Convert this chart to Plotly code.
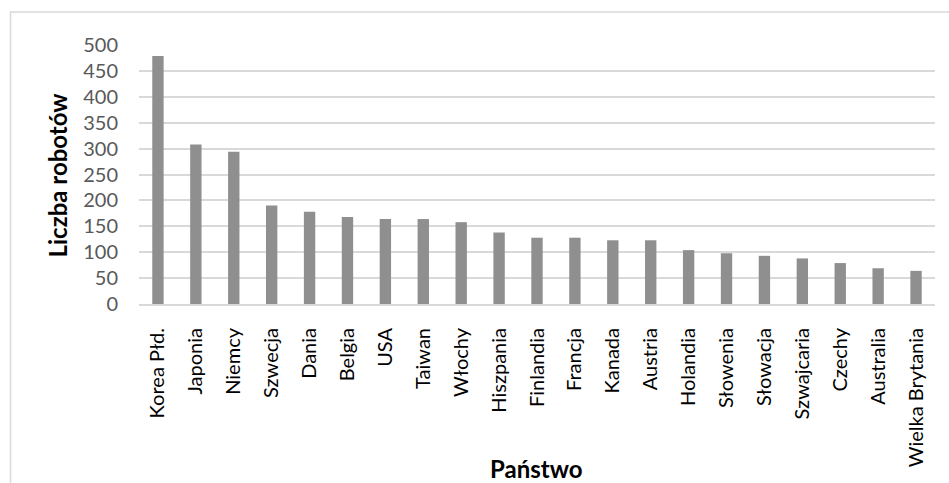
import plotly.graph_objects as go

countries = ["Korea Płd.", "Japonia", "Niemcy", "Szwecja", "Dania", "Belgia", "USA",
             "Taiwan", "Włochy", "Hiszpania", "Finlandia", "Francja", "Kanada", "Austria",
             "Holandia", "Słowenia", "Słowacja", "Szwajcaria", "Czechy", "Australia",
             "Wielka Brytania"]
robots = [479, 308, 294, 190, 178, 168, 164, 164, 158, 138, 128, 128, 123, 123,
          104, 98, 93, 88, 79, 69, 64]
y_ticks = [0, 50, 100, 150, 200, 250, 300, 350, 400, 450, 500]

W, H = 949, 483
L, R, T, B = 139, 14, 45, 179
pw, ph = W - L - R, H - T - B

FONT = "Lato"

fig = go.Figure(go.Bar(x=countries, y=robots, marker=dict(color="#8f8f8f", line=dict(width=0)),
                       width=0.3))

fig.update_layout(
    width=W, height=H,
    margin=dict(l=L, r=R, t=T, b=B, pad=0),
    paper_bgcolor="white", plot_bgcolor="white",
    showlegend=False,
    font=dict(family=FONT, color="#000000"),
    xaxis=dict(
        tickangle=-90, tickfont=dict(family=FONT, size=20, color="#000000"),
        showgrid=False, showline=True, linecolor="#d9d9d9", linewidth=2,
        ticks="", ticklabelstandoff=14, fixedrange=True,
    ),
    yaxis=dict(
        range=[0, 500], tickvals=y_ticks, ticktext=[str(v) for v in y_ticks],
        tickfont=dict(family=FONT, size=20, color="#595959"),
        showgrid=True, gridcolor="#d9d9d9", gridwidth=2,
        zeroline=False, showline=False, ticks="", ticklabelstandoff=20,
    ),
)

def px_x(p):
    return (p - L) / pw

def px_y(p):
    return (H - B - p) / ph

fig.add_shape(type="rect", xref="paper", yref="paper",
              x0=px_x(10.5), x1=px_x(1100), y0=px_y(12), y1=px_y(600),
              line=dict(color="#d9d9d9", width=1.5), fillcolor="rgba(0,0,0,0)", layer="below")

fig.add_annotation(text="<b>Liczba robotów</b>", xref="paper", yref="paper",
                   x=px_x(57), y=px_y(175.5), textangle=-90, showarrow=False,
                   xanchor="center", yanchor="middle",
                   font=dict(family=FONT, size=24, color="#000000"))
fig.add_annotation(text="<b>Państwo</b>", xref="paper", yref="paper",
                   x=px_x(536), y=px_y(468), showarrow=False,
                   xanchor="center", yanchor="middle",
                   font=dict(family=FONT, size=24, color="#000000"))

fig.write_html("out.html")
